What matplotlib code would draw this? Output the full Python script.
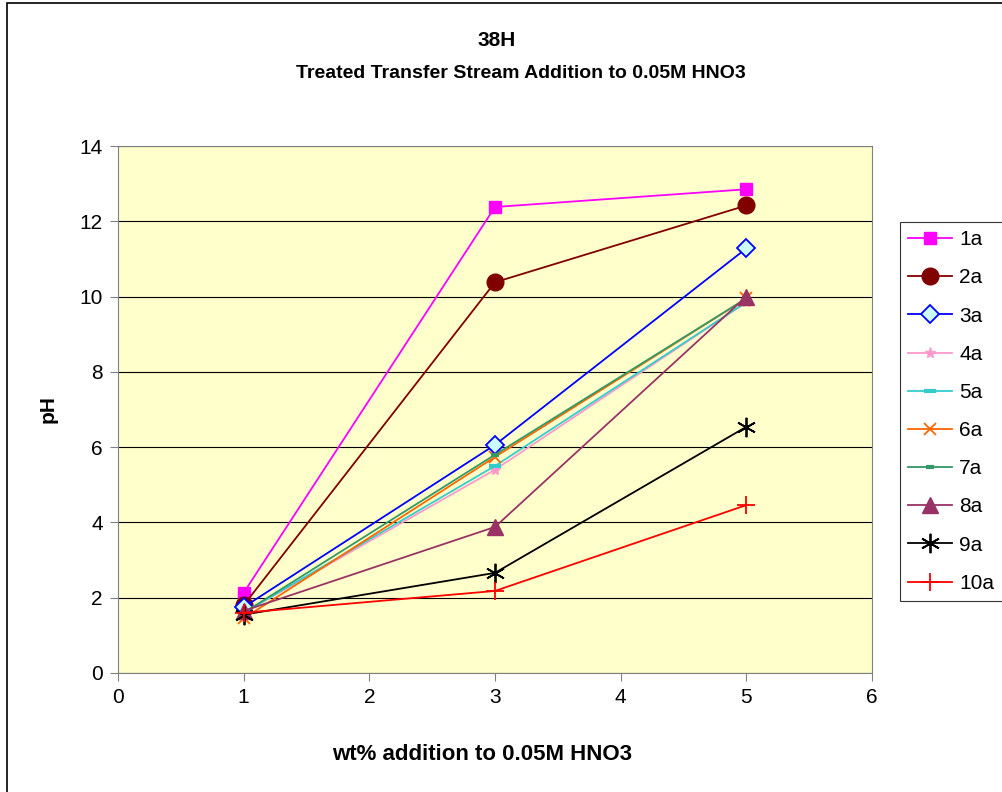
import numpy as np
import matplotlib.pyplot as plt

plt.rcParams['font.family'] = ['Liberation Sans', 'DejaVu Sans']

# --- data ---
wt_pct = [1, 3, 5]
series_names = ['1a', '2a', '3a', '4a', '5a', '6a', '7a', '8a', '9a', '10a']
ph_1a = [2.13, 12.38, 12.85]
ph_2a = [1.80, 10.38, 12.42]
ph_3a = [1.75, 6.06, 11.28]
ph_4a = [1.60, 5.40, 9.85]
ph_5a = [1.60, 5.50, 9.85]
ph_6a = [1.45, 5.74, 9.95]
ph_7a = [1.60, 5.80, 9.95]
ph_8a = [1.65, 3.88, 10.00]
ph_9a = [1.55, 2.66, 6.54]
ph_10a = [1.60, 2.18, 4.46]
all_ph = [ph_1a, ph_2a, ph_3a, ph_4a, ph_5a, ph_6a, ph_7a, ph_8a, ph_9a, ph_10a]

# style per series (Excel-like)
styles = [
    dict(color='#FF00FF', marker='s', ms=8, mfc='#FF00FF', mec='#FF00FF'),
    dict(color='#800000', marker='o', ms=12, mfc='#800000', mec='#800000'),
    dict(color='#0000FF', marker='D', ms=9, mfc='#CCFFFF', mec='#0000FF', mew=1.3),
    dict(color='#FF99CC', marker='*', ms=8, mfc='#FF99CC', mec='#FF99CC'),
    dict(color='#33CCCC', marker='_', ms=9, mew=3, mec='#33CCCC'),
    dict(color='#FF6600', marker='x', ms=8, mew=1.3, mec='#FF6600'),
    dict(color='#339966', marker='_', ms=6, mew=3, mec='#339966'),
    dict(color='#993366', marker='^', ms=12, mfc='#993366', mec='#993366'),
    dict(color='#000000', marker=(6, 2, 0), ms=14, mew=1.3, mec='#000000'),
    dict(color='#FF0000', marker='+', ms=13, mew=1.3, mec='#FF0000'),
]

fig = plt.figure(figsize=(10.03, 7.92), dpi=100)
ax = fig.add_axes([118 / 1003, 1 - 673 / 792, (872 - 118) / 1003, (673 - 146) / 792])
ax.set_facecolor('#FFFFCC')

for name, ph, st in zip(series_names, all_ph, styles):
    ax.plot(wt_pct, ph, label=name, lw=1.3, **st)

ax.set_xlim(0, 6)
ax.set_ylim(0, 14)
ax.set_xticks(range(0, 7))
ax.set_yticks(range(0, 15, 2))
ax.yaxis.grid(True, color='black', lw=0.8)
ax.set_axisbelow(True)
for s in ax.spines.values():
    s.set_color('#808080')
ax.tick_params(labelsize=15, direction='out', length=6, pad=5, color='#808080')

ax.set_xlabel('wt% addition to 0.05M HNO3', fontsize=16, fontweight='bold')
ax.xaxis.set_label_coords(0.483, -0.134)
ax.set_ylabel('pH', fontsize=15, fontweight='bold', labelpad=16)

fig.text(0.4955, 1 - 40 / 792, '38H', ha='center', va='center', fontsize=15, fontweight='bold')
fig.text(0.5195, 1 - 74 / 792, 'Treated Transfer Stream Addition to 0.05M HNO3',
         ha='center', va='center', fontsize=14, fontweight='bold')

leg = fig.legend(loc='upper left', bbox_to_anchor=(900 / 1003, 1 - 222 / 792),
                 fontsize=15, frameon=True, fancybox=False, edgecolor='black',
                 borderaxespad=0, borderpad=0.4, labelspacing=0.92,
                 handlelength=2.1, handletextpad=0.35)
leg.get_frame().set_linewidth(0.8)

# outer chart border
fig.patches.append(plt.Rectangle((7 / 1003, -0.05), 1.2, 1 - 3 / 792 + 0.05,
                                 transform=fig.transFigure,
                                 fill=False, edgecolor='black', lw=1.2))

fig.savefig('out.png', dpi=100)
